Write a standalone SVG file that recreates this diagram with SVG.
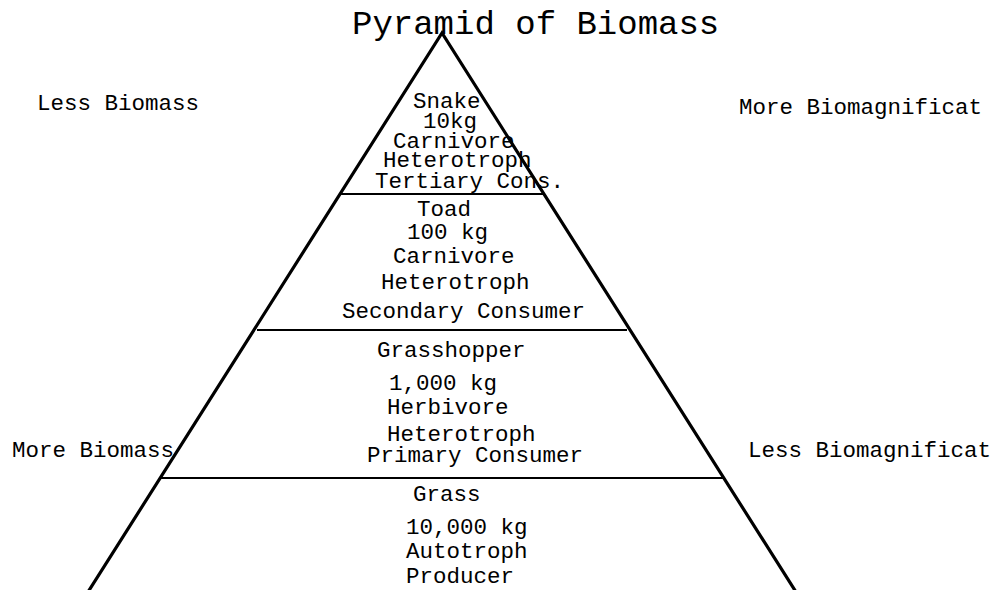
<svg xmlns="http://www.w3.org/2000/svg" width="993" height="590" viewBox="0 0 993 590">
<style>
text{font-family:"Liberation Mono","DejaVu Sans Mono",monospace;font-size:22.5px;fill:#000}
.title{font-size:34px}
.edge{stroke:#000;stroke-width:2;fill:none}
</style>
<rect width="993" height="590" fill="#fff"/>
<text class="title" x="352" y="34">Pyramid of Biomass</text>
<g id="outline">
<polyline points="88,592 442,33 796,592" fill="none" stroke="#000" stroke-width="3.2" stroke-linejoin="miter"/>
</g>
<g id="connectors">
<line class="edge" x1="340" y1="194" x2="545" y2="194"/>
<line class="edge" x1="257" y1="330" x2="627" y2="330"/>
<line class="edge" x1="160" y1="478" x2="725" y2="478"/>
</g>
<g id="side-labels">
<text x="37" y="110">Less Biomass</text>
<text x="739" y="114">More Biomagnificat</text>
<text x="12" y="457">More Biomass</text>
<text x="748" y="457">Less Biomagnificat</text>
</g>
<g id="level-tertiary">
<text x="413" y="108">Snake</text>
<text x="423" y="128">10kg</text>
<text x="393" y="148">Carnivore</text>
<text x="383" y="167">Heterotroph</text>
<text x="375" y="188">Tertiary Cons.</text>
</g>
<g id="level-secondary">
<text x="417" y="216">Toad</text>
<text x="407" y="239">100 kg</text>
<text x="393" y="263">Carnivore</text>
<text x="381" y="289">Heterotroph</text>
<text x="342" y="318">Secondary Consumer</text>
</g>
<g id="level-primary">
<text x="377" y="357">Grasshopper</text>
<text x="389" y="390">1,000 kg</text>
<text x="387" y="414">Herbivore</text>
<text x="387" y="441">Heterotroph</text>
<text x="367" y="462">Primary Consumer</text>
</g>
<g id="level-producer">
<text x="413" y="501">Grass</text>
<text x="406" y="534">10,000 kg</text>
<text x="406" y="558">Autotroph</text>
<text x="406" y="583">Producer</text>
</g>
</svg>
